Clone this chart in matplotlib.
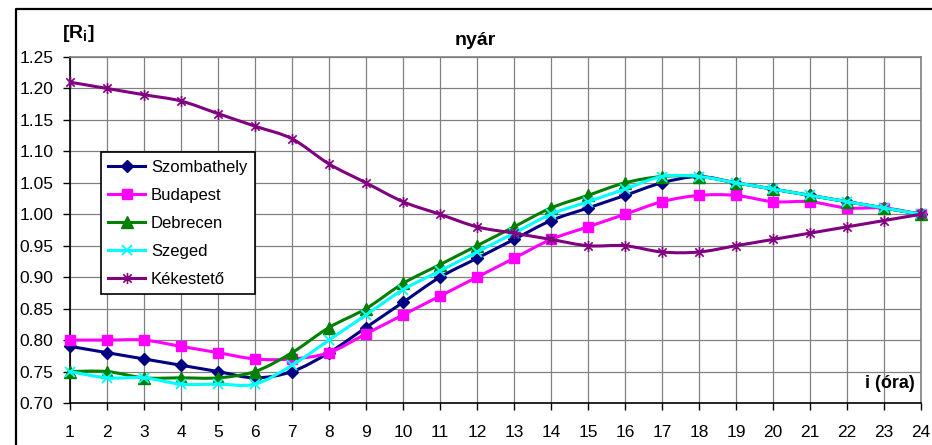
import numpy as np
import matplotlib.pyplot as plt
from matplotlib.path import Path
from matplotlib.patches import PathPatch
from matplotlib.lines import Line2D

plt.rcParams['font.family'] = ['Liberation Sans', 'DejaVu Sans']
plt.rcParams['mathtext.fontset'] = 'custom'
plt.rcParams['mathtext.rm'] = 'Liberation Sans'
plt.rcParams['mathtext.bf'] = 'Liberation Sans:bold'

# hours of the day
hours = list(range(1, 25))

# hourly ratio R_i for each station, summer
szombathely = [0.79, 0.78, 0.77, 0.76, 0.75, 0.74, 0.75, 0.78, 0.82, 0.86, 0.90, 0.93,
               0.96, 0.99, 1.01, 1.03, 1.05, 1.06, 1.05, 1.04, 1.03, 1.02, 1.01, 1.00]
budapest = [0.80, 0.80, 0.80, 0.79, 0.78, 0.77, 0.77, 0.78, 0.81, 0.84, 0.87, 0.90,
            0.93, 0.96, 0.98, 1.00, 1.02, 1.03, 1.03, 1.02, 1.02, 1.01, 1.01, 1.00]
debrecen = [0.75, 0.75, 0.74, 0.74, 0.74, 0.75, 0.78, 0.82, 0.85, 0.89, 0.92, 0.95,
            0.98, 1.01, 1.03, 1.05, 1.06, 1.06, 1.05, 1.04, 1.03, 1.02, 1.01, 1.00]
szeged = [0.75, 0.74, 0.74, 0.73, 0.73, 0.73, 0.76, 0.80, 0.84, 0.88, 0.91, 0.94,
          0.97, 1.00, 1.02, 1.04, 1.06, 1.06, 1.05, 1.04, 1.03, 1.02, 1.01, 1.00]
kekesteto = [1.21, 1.20, 1.19, 1.18, 1.16, 1.14, 1.12, 1.08, 1.05, 1.02, 1.00, 0.98,
             0.97, 0.96, 0.95, 0.95, 0.94, 0.94, 0.95, 0.96, 0.97, 0.98, 0.99, 1.00]

names = ['Szombathely', 'Budapest', 'Debrecen', 'Szeged', 'Kékestető']
series = [szombathely, budapest, debrecen, szeged, kekesteto]

# asterisk: vertical bar plus an x
star = Path([(0, -1), (0, 1), (-0.75, -0.75), (0.75, 0.75), (-0.75, 0.75), (0.75, -0.75)],
            [Path.MOVETO, Path.LINETO, Path.MOVETO, Path.LINETO, Path.MOVETO, Path.LINETO])

styles = [
    dict(color='#000080', marker='D', ms=6.5, mfc='#000080', mec='#000080'),
    dict(color='#FF00FF', marker='s', ms=6.5, mfc='#FF00FF', mec='#FF00FF'),
    dict(color='#008000', marker='^', ms=8, mfc='#008000', mec='#008000'),
    dict(color='#00FFFF', marker='x', ms=6.5, mfc='none', mec='#00FFFF', mew=1.3),
    dict(color='#800080', marker=star, ms=8, mfc='none', mec='#800080', mew=1.2),
]


def smooth_path(x, y):
    # cubic Bezier through the points, Catmull-Rom style control points
    x = np.asarray(x, float)
    y = np.asarray(y, float)
    pts = np.column_stack([x, y])
    n = len(pts)
    verts = [pts[0]]
    codes = [Path.MOVETO]
    for i in range(n - 1):
        p0 = pts[max(i - 1, 0)]
        p1 = pts[i]
        p2 = pts[i + 1]
        p3 = pts[min(i + 2, n - 1)]
        c1 = p1 + (p2 - p0) / 6.0
        c2 = p2 - (p3 - p1) / 6.0
        verts += [c1, c2, p2]
        codes += [Path.CURVE4] * 3
    return Path(verts, codes)


fig = plt.figure(figsize=(9.32, 4.45), dpi=100)
ax = fig.add_axes([0.0751, 0.0944, 0.9131, 0.7775])

handles = []
for k, (vals, st) in enumerate(zip(series, styles)):
    patch = PathPatch(smooth_path(hours, vals), fill=False, edgecolor=st['color'],
                      lw=2.2, zorder=3 + k, clip_on=False, capstyle='round')
    ax.add_patch(patch)
    ax.plot(hours, vals, linestyle='none', marker=st['marker'], ms=st['ms'],
            mfc=st['mfc'], mec=st['mec'], mew=st.get('mew', 1.0),
            zorder=3.5 + k, clip_on=False)
    handles.append(Line2D([], [], color=st['color'], lw=2.2, marker=st['marker'],
                          ms=st['ms'], mfc=st['mfc'], mec=st['mec'],
                          mew=st.get('mew', 1.0)))

ax.set_xlim(1, 24)
ax.set_ylim(0.70, 1.25)
ax.set_xticks(hours)
ax.set_yticks(np.arange(0.70, 1.2501, 0.05))
ax.yaxis.set_major_formatter(plt.FormatStrFormatter('%.2f'))
ax.grid(True, color='#808080', lw=0.9, zorder=0)
ax.set_axisbelow(True)
for side in ['top', 'right']:
    ax.spines[side].set_color('#808080')
    ax.spines[side].set_linewidth(1.2)
for side in ['left', 'bottom']:
    ax.spines[side].set_color('black')
    ax.spines[side].set_linewidth(1.2)
ax.tick_params(axis='x', direction='out', length=5, width=1, pad=11, labelsize=12.5)
ax.tick_params(axis='y', direction='out', length=5, width=1, pad=7, labelsize=12.5)

leg = ax.legend(handles, names, loc='upper left', bbox_to_anchor=(0.0364, 0.7254),
                borderaxespad=0, fancybox=False, framealpha=1, edgecolor='black',
                fontsize=12, handlelength=2.2, handletextpad=0.35, labelspacing=0.78,
                borderpad=0.45)
leg.get_frame().set_linewidth(1.2)
leg.set_zorder(20)

ax.text(0.993, 0.055, 'i (óra)', transform=ax.transAxes, ha='right', va='center',
        fontsize=13, fontweight='bold')
fig.text(0.510, 0.908, 'nyár', ha='center', va='center', fontsize=14, fontweight='bold')
fig.text(0.067, 0.924, r'$\mathbf{[R_i]}$', ha='left', va='center', fontsize=14)

# chart border
fig.add_artist(Line2D([0.0172, 0.0172, 1.01], [-0.01, 0.9798, 0.9798],
                      transform=fig.transFigure, color='black', lw=1.6))

fig.savefig('out.png', dpi=100)
